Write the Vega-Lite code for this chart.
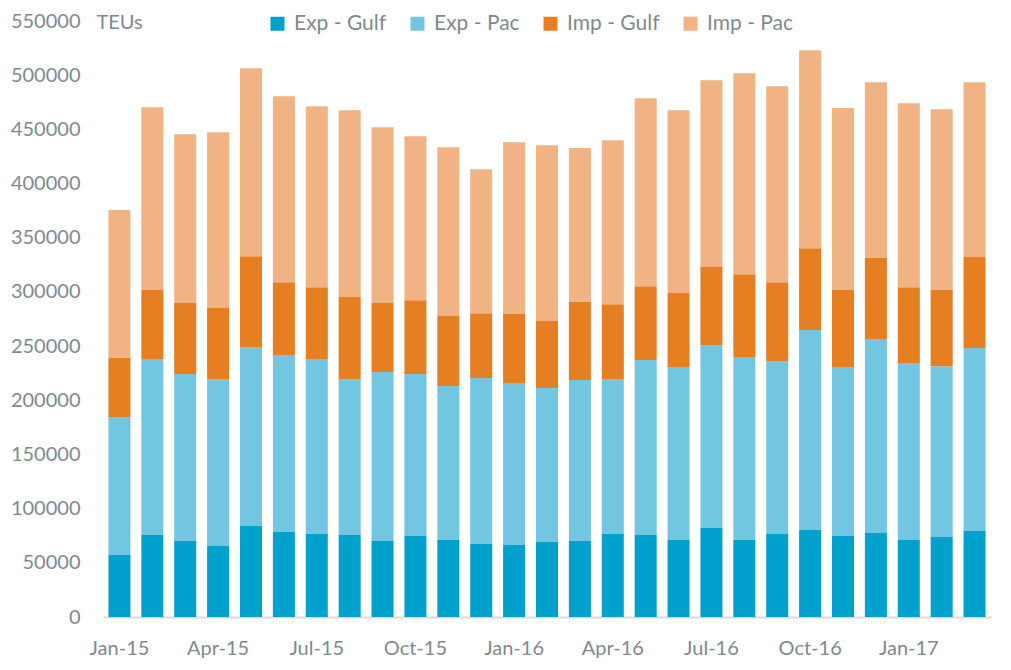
{
  "$schema": "https://vega.github.io/schema/vega-lite/v6.json",
  "width": 888,
  "height": 596,
  "autosize": "none",
  "padding": {"left": 103, "top": 21, "right": 20, "bottom": 53},
  "background": "white",
  "config": {
    "view": {"stroke": null},
    "font": "Lato",
    "text": {"font": "Lato"}
  },
  "datasets": {
    "teu": [
      {"month":"Jan-15","series":"Exp - Gulf","teu":57200},{"month":"Jan-15","series":"Exp - Pac","teu":127300},{"month":"Jan-15","series":"Imp - Gulf","teu":54400},{"month":"Jan-15","series":"Imp - Pac","teu":136600},
      {"month":"Feb-15","series":"Exp - Gulf","teu":75600},{"month":"Feb-15","series":"Exp - Pac","teu":162400},{"month":"Feb-15","series":"Imp - Gulf","teu":63700},{"month":"Feb-15","series":"Imp - Pac","teu":168800},
      {"month":"Mar-15","series":"Exp - Gulf","teu":70100},{"month":"Mar-15","series":"Exp - Pac","teu":154100},{"month":"Mar-15","series":"Imp - Gulf","teu":65500},{"month":"Mar-15","series":"Imp - Pac","teu":155900},
      {"month":"Apr-15","series":"Exp - Gulf","teu":65500},{"month":"Apr-15","series":"Exp - Pac","teu":154100},{"month":"Apr-15","series":"Imp - Gulf","teu":65500},{"month":"Apr-15","series":"Imp - Pac","teu":162300},
      {"month":"May-15","series":"Exp - Gulf","teu":83900},{"month":"May-15","series":"Exp - Pac","teu":165200},{"month":"May-15","series":"Imp - Gulf","teu":83900},{"month":"May-15","series":"Imp - Pac","teu":173500},
      {"month":"Jun-15","series":"Exp - Gulf","teu":78400},{"month":"Jun-15","series":"Exp - Pac","teu":163300},{"month":"Jun-15","series":"Imp - Gulf","teu":67300},{"month":"Jun-15","series":"Imp - Pac","teu":171600},
      {"month":"Jul-15","series":"Exp - Gulf","teu":76600},{"month":"Jul-15","series":"Exp - Pac","teu":161400},{"month":"Jul-15","series":"Imp - Gulf","teu":66400},{"month":"Jul-15","series":"Imp - Pac","teu":167000},
      {"month":"Aug-15","series":"Exp - Gulf","teu":75600},{"month":"Aug-15","series":"Exp - Pac","teu":144000},{"month":"Aug-15","series":"Imp - Gulf","teu":75600},{"month":"Aug-15","series":"Imp - Pac","teu":172500},
      {"month":"Sep-15","series":"Exp - Gulf","teu":70100},{"month":"Sep-15","series":"Exp - Pac","teu":155900},{"month":"Sep-15","series":"Imp - Gulf","teu":63700},{"month":"Sep-15","series":"Imp - Pac","teu":162300},
      {"month":"Oct-15","series":"Exp - Gulf","teu":74700},{"month":"Oct-15","series":"Exp - Pac","teu":149500},{"month":"Oct-15","series":"Imp - Gulf","teu":68200},{"month":"Oct-15","series":"Imp - Pac","teu":151300},
      {"month":"Nov-15","series":"Exp - Gulf","teu":71000},{"month":"Nov-15","series":"Exp - Pac","teu":142100},{"month":"Nov-15","series":"Imp - Gulf","teu":64600},{"month":"Nov-15","series":"Imp - Pac","teu":155900},
      {"month":"Dec-15","series":"Exp - Gulf","teu":67300},{"month":"Dec-15","series":"Exp - Pac","teu":153200},{"month":"Dec-15","series":"Imp - Gulf","teu":59900},{"month":"Dec-15","series":"Imp - Pac","teu":132900},
      {"month":"Jan-16","series":"Exp - Gulf","teu":66400},{"month":"Jan-16","series":"Exp - Pac","teu":149500},{"month":"Jan-16","series":"Imp - Gulf","teu":63600},{"month":"Jan-16","series":"Imp - Pac","teu":158700},
      {"month":"Feb-16","series":"Exp - Gulf","teu":69200},{"month":"Feb-16","series":"Exp - Pac","teu":142100},{"month":"Feb-16","series":"Imp - Gulf","teu":61800},{"month":"Feb-16","series":"Imp - Pac","teu":162300},
      {"month":"Mar-16","series":"Exp - Gulf","teu":70100},{"month":"Mar-16","series":"Exp - Pac","teu":148500},{"month":"Mar-16","series":"Imp - Gulf","teu":72000},{"month":"Mar-16","series":"Imp - Pac","teu":142100},
      {"month":"Apr-16","series":"Exp - Gulf","teu":76600},{"month":"Apr-16","series":"Exp - Pac","teu":143000},{"month":"Apr-16","series":"Imp - Gulf","teu":69100},{"month":"Apr-16","series":"Imp - Pac","teu":151300},
      {"month":"May-16","series":"Exp - Gulf","teu":75600},{"month":"May-16","series":"Exp - Pac","teu":161500},{"month":"May-16","series":"Imp - Gulf","teu":68200},{"month":"May-16","series":"Imp - Pac","teu":173500},
      {"month":"Jun-16","series":"Exp - Gulf","teu":71000},{"month":"Jun-16","series":"Exp - Pac","teu":159600},{"month":"Jun-16","series":"Imp - Gulf","teu":68300},{"month":"Jun-16","series":"Imp - Pac","teu":168800},
      {"month":"Jul-16","series":"Exp - Gulf","teu":82100},{"month":"Jul-16","series":"Exp - Pac","teu":168800},{"month":"Jul-16","series":"Imp - Gulf","teu":72000},{"month":"Jul-16","series":"Imp - Pac","teu":172500},
      {"month":"Aug-16","series":"Exp - Gulf","teu":71000},{"month":"Aug-16","series":"Exp - Pac","teu":168900},{"month":"Aug-16","series":"Imp - Gulf","teu":76500},{"month":"Aug-16","series":"Imp - Pac","teu":185400},
      {"month":"Sep-16","series":"Exp - Gulf","teu":76600},{"month":"Sep-16","series":"Exp - Pac","teu":159600},{"month":"Sep-16","series":"Imp - Gulf","teu":72800},{"month":"Sep-16","series":"Imp - Pac","teu":180800},
      {"month":"Oct-16","series":"Exp - Gulf","teu":80300},{"month":"Oct-16","series":"Exp - Pac","teu":184500},{"month":"Oct-16","series":"Imp - Gulf","teu":75600},{"month":"Oct-16","series":"Imp - Pac","teu":182700},
      {"month":"Nov-16","series":"Exp - Gulf","teu":74700},{"month":"Nov-16","series":"Exp - Pac","teu":155900},{"month":"Nov-16","series":"Imp - Gulf","teu":71100},{"month":"Nov-16","series":"Imp - Pac","teu":167900},
      {"month":"Dec-16","series":"Exp - Gulf","teu":77500},{"month":"Dec-16","series":"Exp - Pac","teu":179000},{"month":"Dec-16","series":"Imp - Gulf","teu":74700},{"month":"Dec-16","series":"Imp - Pac","teu":162300},
      {"month":"Jan-17","series":"Exp - Gulf","teu":71000},{"month":"Jan-17","series":"Exp - Pac","teu":163300},{"month":"Jan-17","series":"Imp - Gulf","teu":70100},{"month":"Jan-17","series":"Imp - Pac","teu":169800},
      {"month":"Feb-17","series":"Exp - Gulf","teu":73800},{"month":"Feb-17","series":"Exp - Pac","teu":157700},{"month":"Feb-17","series":"Imp - Gulf","teu":70200},{"month":"Feb-17","series":"Imp - Pac","teu":166900},
      {"month":"Mar-17","series":"Exp - Gulf","teu":79300},{"month":"Mar-17","series":"Exp - Pac","teu":168900},{"month":"Mar-17","series":"Imp - Gulf","teu":83900},{"month":"Mar-17","series":"Imp - Pac","teu":161400}
    ]
  },
  "data": {"name": "teu"},
  "mark": {"type": "bar"},
  "encoding": {
    "x": {
      "field": "month",
      "type": "ordinal",
      "sort": null,
      "scale": {"paddingInner": 0.33, "paddingOuter": 0.165},
      "axis": {
        "title": null,
        "values": ["Jan-15","Apr-15","Jul-15","Oct-15","Jan-16","Apr-16","Jul-16","Oct-16","Jan-17"],
        "labelAngle": 0,
        "labelFont": "Lato",
        "labelFontSize": 20,
        "labelColor": "#7F8A8E",
        "labelPadding": 21,
        "ticks": false,
        "domainColor": "#D9D9D9",
        "domainWidth": 2
      }
    },
    "y": {
      "field": "teu",
      "type": "quantitative",
      "stack": "zero",
      "scale": {"domain": [0, 550000], "nice": false},
      "axis": {
        "title": "TEUs",
        "titleAngle": 0,
        "titleAlign": "left",
        "titleBaseline": "middle",
        "titleX": -7,
        "titleY": 1,
        "titleFont": "Lato",
        "titleFontSize": 20,
        "titleFontWeight": "normal",
        "titleColor": "#7F8A8E",
        "values": [0,50000,100000,150000,200000,250000,300000,350000,400000,450000,500000,550000],
        "format": "d",
        "labelFont": "Lato",
        "labelFontSize": 20,
        "labelColor": "#7F8A8E",
        "labelPadding": 23,
        "ticks": false,
        "domain": false,
        "grid": false
      }
    },
    "color": {
      "field": "series",
      "type": "nominal",
      "scale": {
        "domain": ["Exp - Gulf", "Exp - Pac", "Imp - Gulf", "Imp - Pac"],
        "range": ["#00A1CD", "#72C6E2", "#E67E22", "#F1B383"]
      },
      "legend": {
        "title": null,
        "orient": "none",
        "direction": "horizontal",
        "legendX": 164,
        "legendY": -8,
        "symbolType": "square",
        "symbolSize": 196,
        "symbolStrokeWidth": 0,
        "labelFont": "Lato",
        "labelFontSize": 21,
        "labelColor": "#7F8A8E",
        "labelOffset": 6,
        "columnPadding": 20
      }
    },
    "order": {"field": "series", "sort": "ascending"}
  }
}
